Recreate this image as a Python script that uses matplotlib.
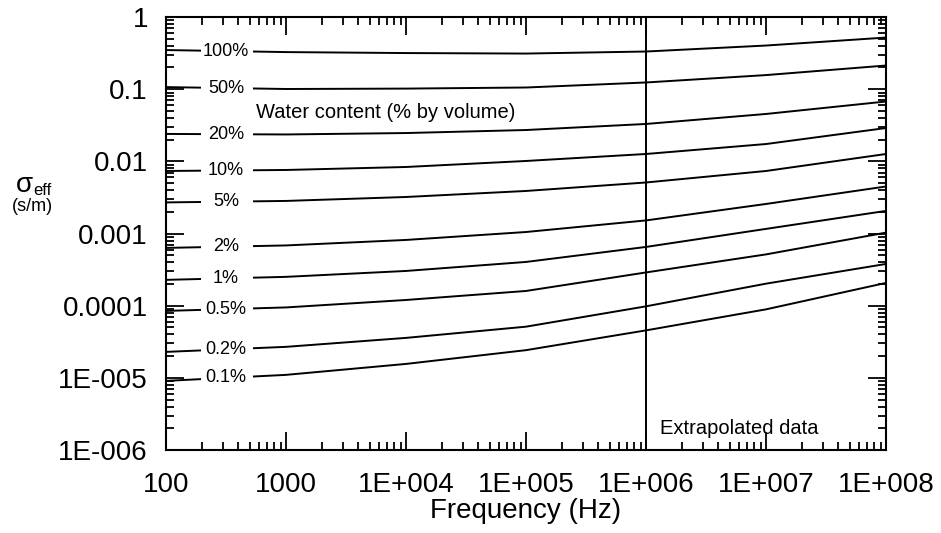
import numpy as np
import matplotlib.pyplot as plt

plt.rcParams['font.family'] = ['Liberation Sans', 'DejaVu Sans']

# frequency grid (Hz)
freq = [1e2, 1e3, 1e4, 1e5, 1e6, 1e7, 1e8]

# effective conductivity (S/m) for each water content
water_labels = ["100%", "50%", "20%", "10%", "5%", "2%", "1%", "0.5%", "0.2%", "0.1%"]
sigma_100 = [0.349, 0.327, 0.317, 0.312, 0.333, 0.403, 0.520]
sigma_50 = [0.107, 0.1007, 0.102, 0.1056, 0.124, 0.157, 0.213]
sigma_20 = [0.0240, 0.0236, 0.0247, 0.0272, 0.0330, 0.0454, 0.0676]
sigma_10 = [0.00736, 0.0076, 0.00836, 0.01013, 0.01266, 0.0174, 0.0290]
sigma_5 = [0.00270, 0.00283, 0.00321, 0.00389, 0.00510, 0.00736, 0.01266]
sigma_2 = [6.32e-4, 6.84e-4, 8.15e-4, 1.05e-3, 1.52e-3, 2.57e-3, 4.49e-3]
sigma_1 = [2.28e-4, 2.51e-4, 3.03e-4, 4.04e-4, 6.52e-4, 1.16e-3, 2.06e-3]
sigma_05 = [8.47e-5, 9.46e-5, 1.20e-4, 1.60e-4, 2.89e-4, 5.14e-4, 1.03e-3]
sigma_02 = [2.29e-5, 2.69e-5, 3.58e-5, 5.12e-5, 9.8e-5, 2.02e-4, 3.79e-4]
sigma_01 = [9.08e-6, 1.10e-5, 1.56e-5, 2.42e-5, 4.55e-5, 8.9e-5, 2.07e-4]
curves = [sigma_100, sigma_50, sigma_20, sigma_10, sigma_5,
          sigma_2, sigma_1, sigma_05, sigma_02, sigma_01]

xtick_vals = [1e2, 1e3, 1e4, 1e5, 1e6, 1e7, 1e8]
xtick_labels = ["100", "1000", "1E+004", "1E+005", "1E+006", "1E+007", "1E+008"]
ytick_vals = [1e-6, 1e-5, 1e-4, 1e-3, 1e-2, 1e-1, 1]
ytick_labels = ["1E-006", "1E-005", "0.0001", "0.001", "0.01", "0.1", "1"]

fig = plt.figure(figsize=(9.41, 5.33), dpi=100)
ax = fig.add_axes([0.1764, 0.1557, 0.7652, 0.8123])
ax.set_axisbelow(False)

for sig in curves:
    ax.plot(freq, sig, color='black', lw=1.4, zorder=2)

# white band behind the curve labels
ax.axvspan(195, 530, color='white', lw=0, zorder=2.2)

label_x = 316
for lab, sig in zip(water_labels, curves):
    y = 10 ** np.interp(np.log10(label_x), np.log10(freq), np.log10(sig))
    ax.text(label_x, y, lab, ha='center', va='center', fontsize=13, zorder=3)

ax.axvline(1e6, color='black', lw=1.4, zorder=2)

ax.text(562, 0.0483, "Water content (% by volume)", ha='left', va='center', fontsize=14.5)
ax.text(1.3e6, 2.0e-6, "Extrapolated data", ha='left', va='center', fontsize=14.5)

ax.set_xscale('log')
ax.set_yscale('log')
ax.set_xlim(1e2, 1e8)
ax.set_ylim(1e-6, 1)
ax.set_xticks(xtick_vals, xtick_labels)
ax.set_yticks(ytick_vals, ytick_labels)
ax.minorticks_on()
ax.tick_params(which='both', direction='in', top=True, right=True, width=1.3)
ax.tick_params(which='major', length=13, labelsize=20)
ax.tick_params(which='minor', length=6)
ax.tick_params(axis='y', pad=13)
ax.tick_params(axis='x', pad=16)
ax.xaxis.set_minor_formatter(plt.NullFormatter())
ax.yaxis.set_minor_formatter(plt.NullFormatter())
for s in ax.spines.values():
    s.set_linewidth(1.5)

ax.set_xlabel("Frequency (Hz)", fontsize=20, labelpad=0)

fig.text(0.035, 0.652, "σ", fontsize=20, ha='right', va='center')
fig.text(0.035, 0.643, "eff", fontsize=12, ha='left', va='center')
fig.text(0.034, 0.612, "(s/m)", fontsize=13, ha='center', va='center')

fig.savefig("out.png", dpi=100)
